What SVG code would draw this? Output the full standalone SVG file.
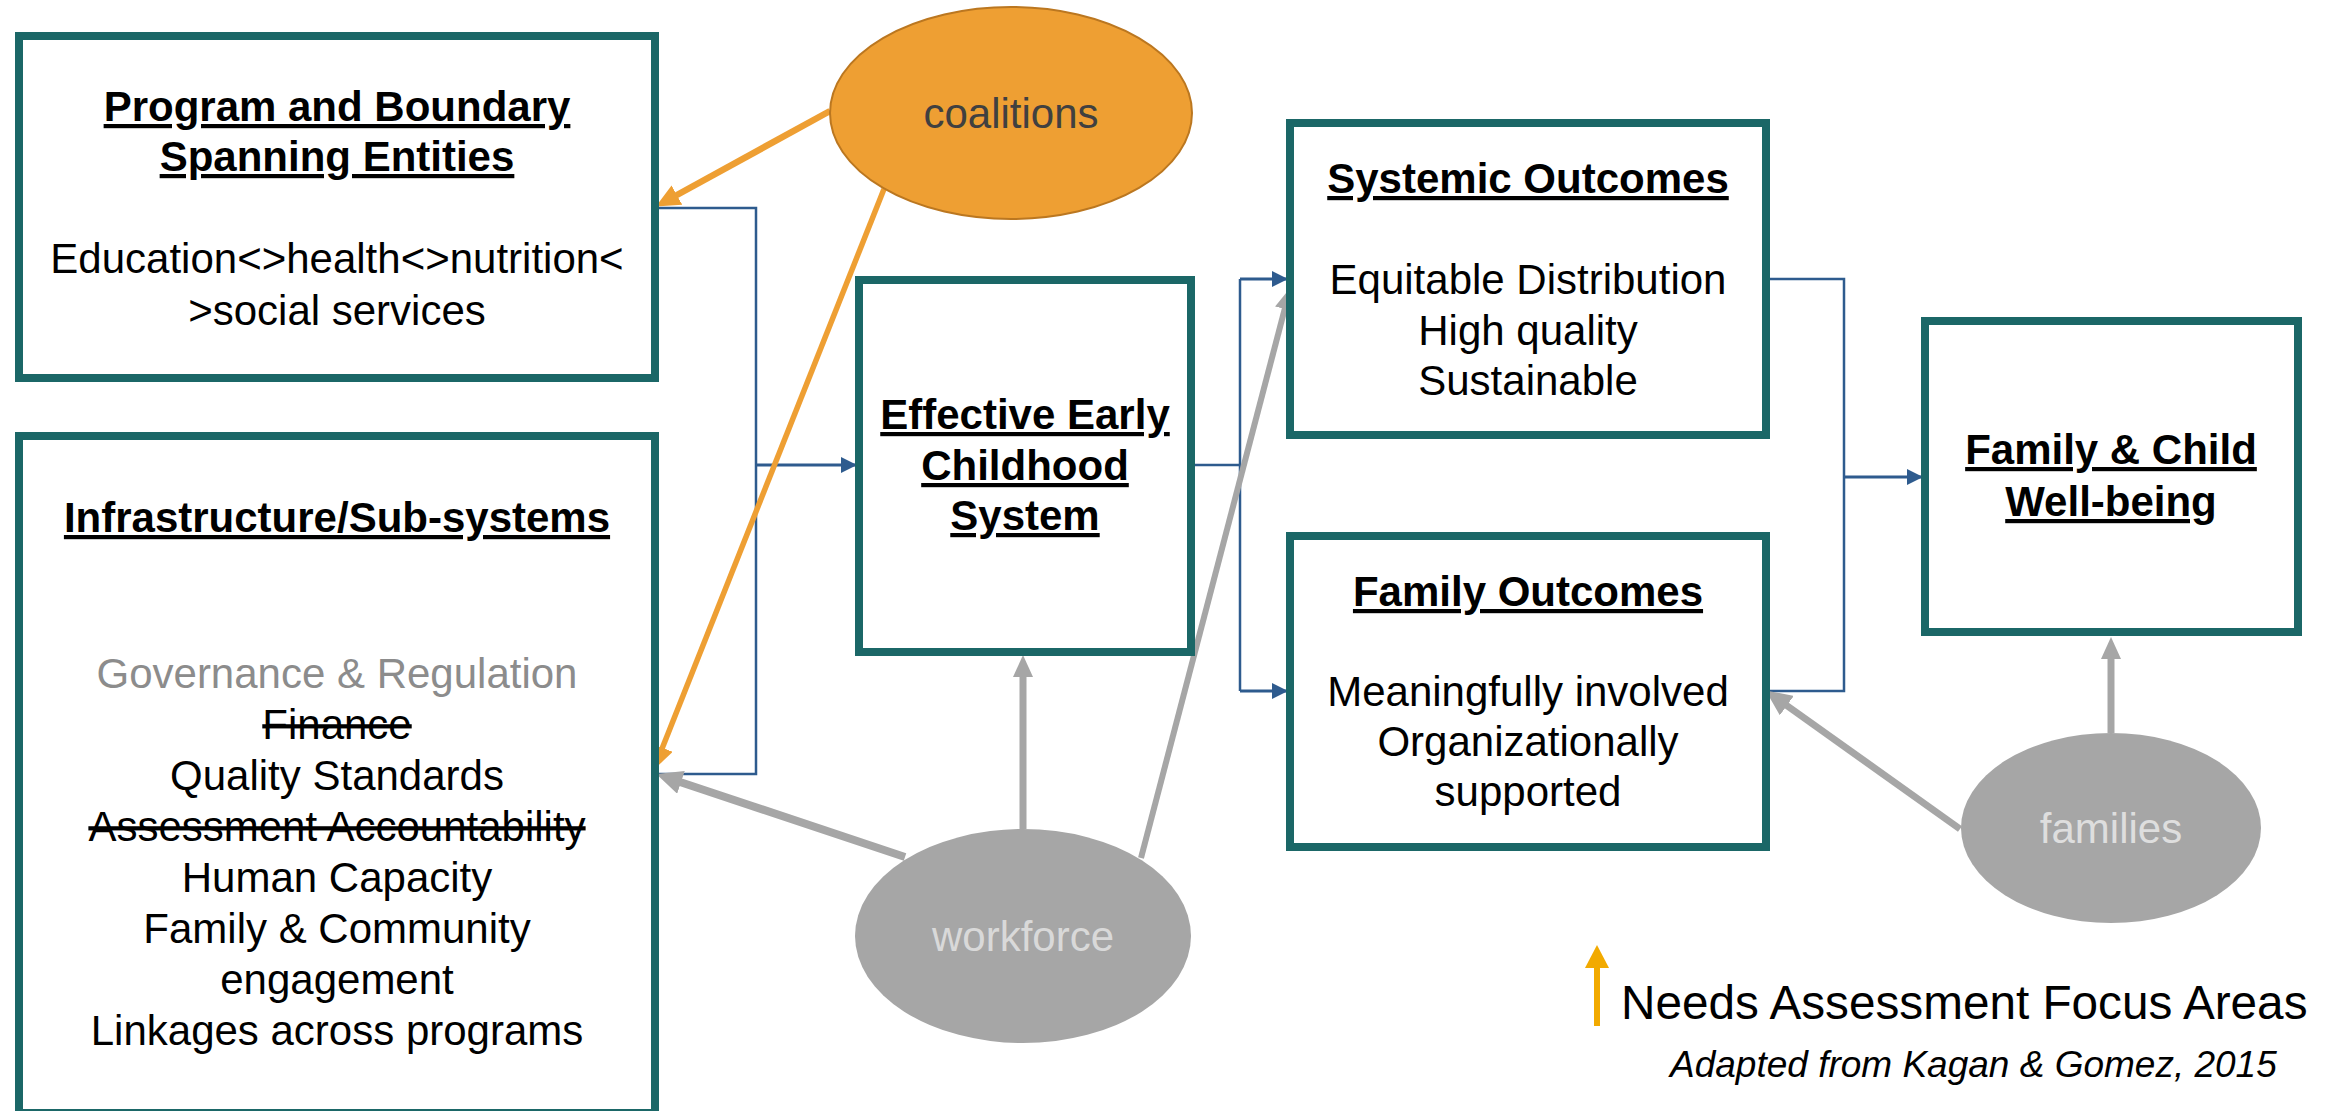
<svg xmlns="http://www.w3.org/2000/svg" width="2326" height="1111" viewBox="0 0 2326 1111">
<style>
  .box { fill: #ffffff; stroke: #1b6767; stroke-width: 8; }
  .t { font-family: "Liberation Sans", Arial, sans-serif; font-size: 42px; text-anchor: middle; fill: #000000; }
  .h { font-weight: bold; text-decoration: underline; }
  .strike { text-decoration: line-through; }
  .blue { fill: none; stroke: #2e5b8e; stroke-width: 2.5; }
  .blueA { fill: none; stroke: #2e5b8e; stroke-width: 3; marker-end: url(#mBlue); }
  .gray { fill: none; stroke: #a6a6a6; }
  .orange { fill: none; stroke: #ee9f33; }
</style>
<defs>
  <marker id="mBlue" markerUnits="userSpaceOnUse" markerWidth="16" markerHeight="16" refX="14" refY="8" orient="auto">
    <path d="M0,0 L16,8 L0,16 z" fill="#2e5b8e"/>
  </marker>
  <marker id="mGrayL" markerUnits="userSpaceOnUse" markerWidth="26" markerHeight="24" refX="1" refY="12" orient="auto">
    <path d="M0,0 L26,12 L0,24 z" fill="#a6a6a6"/>
  </marker>
  <marker id="mGrayS" markerUnits="userSpaceOnUse" markerWidth="22" markerHeight="20" refX="1" refY="10" orient="auto">
    <path d="M0,0 L22,10 L0,20 z" fill="#a6a6a6"/>
  </marker>
  <marker id="mOrange" markerUnits="userSpaceOnUse" markerWidth="24" markerHeight="22" refX="1" refY="11" orient="auto">
    <path d="M0,0 L24,11 L0,22 z" fill="#ee9f33"/>
  </marker>
  <marker id="mYellow" markerUnits="userSpaceOnUse" markerWidth="23" markerHeight="24" refX="1" refY="12" orient="auto">
    <path d="M0,0 L23,12 L0,24 z" fill="#f2aa00"/>
  </marker>
</defs>

<rect width="2326" height="1111" fill="#ffffff"/>

<g id="connectors">
  <path class="blue" d="M659,208 H756 V774 H659"/>
  <path class="blueA" d="M756,465 H855"/>
  <path class="blue" d="M1195,465 H1240"/>
  <path class="blue" d="M1240,279 V691"/>
  <path class="blueA" d="M1240,279 H1286"/>
  <path class="blueA" d="M1240,691 H1286"/>
  <path class="blue" d="M1769,279 H1844 V691 H1769"/>
  <path class="blueA" d="M1844,477 H1921"/>

  <line class="orange" x1="830" y1="111" x2="676" y2="195.5" stroke-width="6.5" marker-end="url(#mOrange)"/>
  <line class="orange" x1="884" y1="189" x2="662" y2="748.7" stroke-width="5.5" marker-end="url(#mOrange)"/>

  <line class="gray" x1="905" y1="857" x2="680" y2="782" stroke-width="8" marker-end="url(#mGrayL)"/>
  <line class="gray" x1="1023" y1="829" x2="1023" y2="676" stroke-width="7" marker-end="url(#mGrayS)"/>
  <line class="gray" x1="1141" y1="858" x2="1285" y2="308" stroke-width="6" marker-end="url(#mGrayS)"/>
  <line class="gray" x1="1960" y1="829" x2="1786" y2="705" stroke-width="7" marker-end="url(#mGrayL)"/>
  <line class="gray" x1="2111" y1="733" x2="2111" y2="658" stroke-width="7" marker-end="url(#mGrayS)"/>
</g>

<g id="program-boundary">
  <rect class="box" x="19" y="36" width="636" height="342"/>
  <text class="t h" x="337" y="121">Program and Boundary</text>
  <text class="t h" x="337" y="171">Spanning Entities</text>
  <text class="t" x="337" y="273">Education&lt;&gt;health&lt;&gt;nutrition&lt;</text>
  <text class="t" x="337" y="325">&gt;social services</text>
</g>

<g id="infrastructure">
  <rect class="box" x="19" y="436" width="636" height="677"/>
  <text class="t h" x="337" y="532">Infrastructure/Sub-systems</text>
  <text class="t" x="337" y="688" style="fill:#8c8c8c">Governance &amp; Regulation</text>
  <text class="t strike" x="337" y="739">Finance</text>
  <text class="t" x="337" y="790">Quality Standards</text>
  <text class="t strike" x="337" y="841">Assessment Accountability</text>
  <text class="t" x="337" y="892">Human Capacity</text>
  <text class="t" x="337" y="943">Family &amp; Community</text>
  <text class="t" x="337" y="994">engagement</text>
  <text class="t" x="337" y="1045">Linkages across programs</text>
</g>

<g id="effective-system">
  <rect class="box" x="859" y="280" width="332" height="372"/>
  <text class="t h" x="1025" y="429">Effective Early</text>
  <text class="t h" x="1025" y="480">Childhood</text>
  <text class="t h" x="1025" y="530">System</text>
</g>

<g id="systemic-outcomes">
  <rect class="box" x="1290" y="123" width="476" height="312"/>
  <text class="t h" x="1528" y="193">Systemic Outcomes</text>
  <text class="t" x="1528" y="294">Equitable Distribution</text>
  <text class="t" x="1528" y="345">High quality</text>
  <text class="t" x="1528" y="395">Sustainable</text>
</g>

<g id="family-outcomes">
  <rect class="box" x="1290" y="536" width="476" height="311"/>
  <text class="t h" x="1528" y="606">Family Outcomes</text>
  <text class="t" x="1528" y="706">Meaningfully involved</text>
  <text class="t" x="1528" y="756">Organizationally</text>
  <text class="t" x="1528" y="806">supported</text>
</g>

<g id="family-child">
  <rect class="box" x="1925" y="321" width="373" height="311"/>
  <text class="t h" x="2111" y="464">Family &amp; Child</text>
  <text class="t h" x="2111" y="516">Well-being</text>
</g>

<g id="coalitions">
  <ellipse cx="1011" cy="113" rx="181" ry="106" fill="#ee9f33" stroke="#bb7720" stroke-width="2"/>
  <text class="t" x="1011" y="128" style="fill:#404040">coalitions</text>
</g>

<g id="workforce">
  <ellipse cx="1023" cy="936" rx="168" ry="107" fill="#a6a6a6"/>
  <text class="t" x="1023" y="951" style="fill:#d9d9d9">workforce</text>
</g>

<g id="families">
  <ellipse cx="2111" cy="828" rx="150" ry="95" fill="#a6a6a6"/>
  <text class="t" x="2111" y="843" style="fill:#dedede">families</text>
</g>

<g id="legend">
  <line x1="1597" y1="1026" x2="1597" y2="967" stroke="#f2aa00" stroke-width="6" marker-end="url(#mYellow)"/>
  <text x="1621" y="1019" style="font-family:'Liberation Sans', Arial, sans-serif; font-size:47.7px; fill:#000">Needs Assessment Focus Areas</text>
  <text x="1670" y="1077" style="font-family:'Liberation Sans', Arial, sans-serif; font-size:37px; font-style:italic; fill:#000">Adapted from Kagan &amp; Gomez, 2015</text>
</g>
</svg>
